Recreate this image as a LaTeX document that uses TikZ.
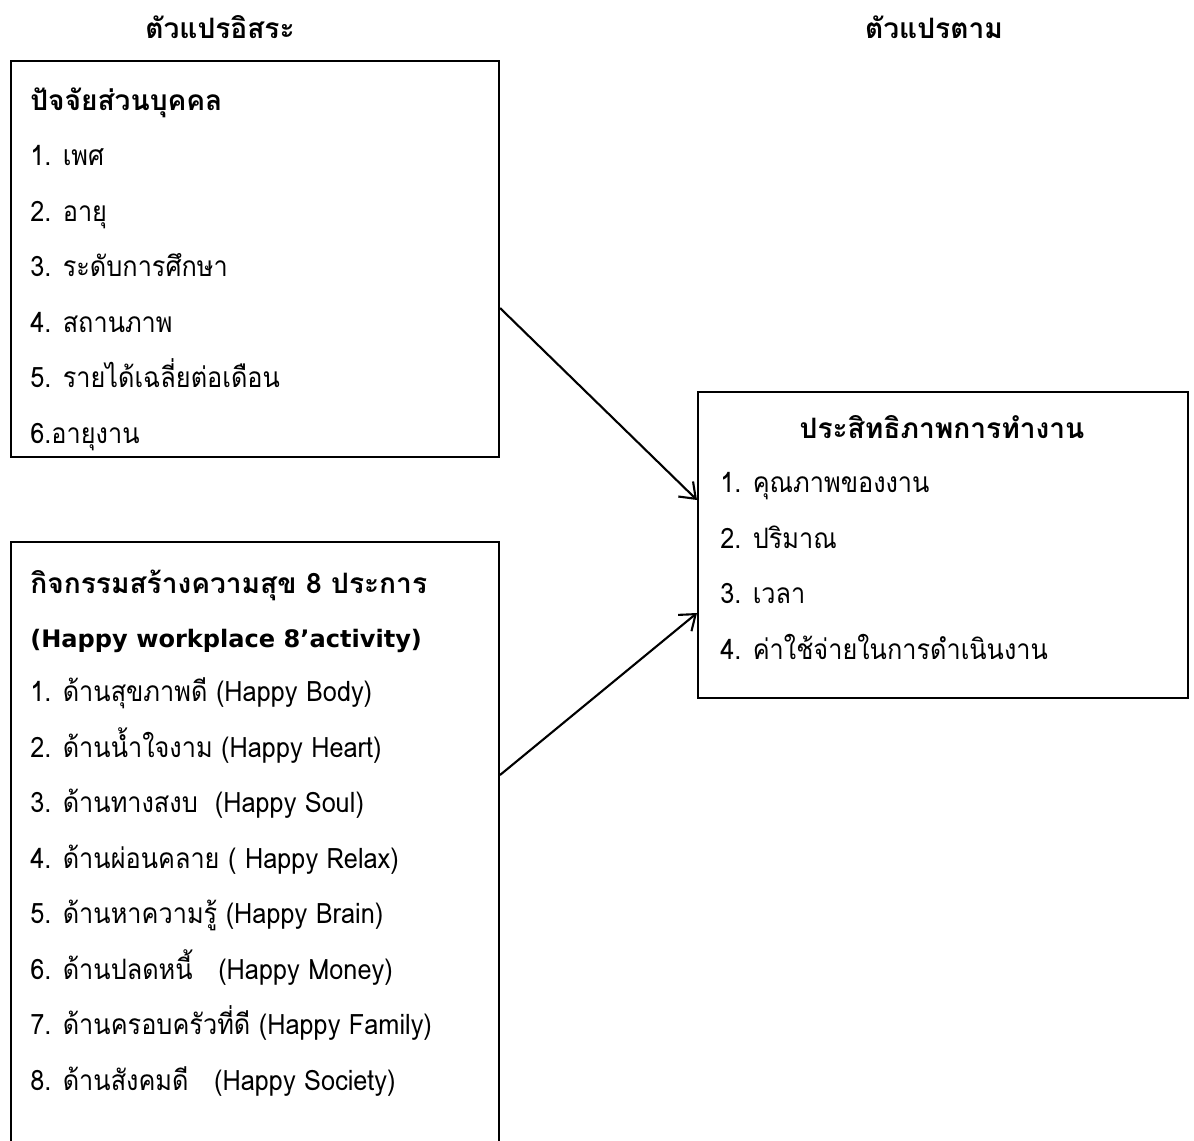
\documentclass[tikz,border=0pt]{standalone}
\usepackage{fontspec}
\setmainfont[Script=Thai, UprightFeatures={FakeStretch=0.9}]{Loma}
\newfontfamily\latinbold{DejaVu Sans}
\usetikzlibrary{positioning,arrows.meta}
\tikzset{
  frame/.style={draw, line width=1.2pt, anchor=north west, inner sep=0pt},
  item/.style={anchor=base west, inner sep=0pt, font=\fontsize{16}{19}\selectfont},
  head/.style={item, font=\fontsize{16}{19}\selectfont\bfseries},
  link/.style={-{Straight Barb[length=8pt,width=12pt]}, line width=1.2pt},
}
\begin{document}
\begin{tikzpicture}[x=0.02cm, y=-0.02cm]
\clip (0,0) rectangle (1194,1140);
% headers
\node[head, anchor=base] (indep) at (220,38) {ตัวแปรอิสระ};
\node[head, anchor=base] (dep) at (934,38) {ตัวแปรตาม};
% boxes
\node[frame, minimum width=9.76cm, minimum height=7.92cm] (personal) at (10,60) {};
\node[frame, minimum width=9.76cm, minimum height=12.4cm] (happy) at (10,541) {};
\node[frame, minimum width=9.8cm, minimum height=6.12cm] (outcome) at (697,391) {};
% personal factors
\node[head] (pftitle) at (30,110) {ปัจจัยส่วนบุคคล};
\foreach \txt [count=\i] in {1. เพศ, 2. อายุ, 3. ระดับการศึกษา, 4. สถานภาพ,
    5. รายได้เฉลี่ยต่อเดือน, 6.อายุงาน}
  \node[item] (pf\i) at (30,110+55.5*\i) {\txt};
% happy workplace
\node[head] (hwtitle) at (30,593) {กิจกรรมสร้างความสุข 8 ประการ};
\node[head, font=\fontsize{13.7}{19}\latinbold\bfseries] (hwsub) at (30,647) {(Happy workplace 8’activity)};
\foreach \txt [count=\i] in {{1. ด้านสุขภาพดี (Happy Body)},
    {2. ด้านน้ำใจงาม (Happy Heart)},
    {3. ด้านทางสงบ\ \ (Happy Soul)},
    {4. ด้านผ่อนคลาย ( Happy Relax)},
    {5. ด้านหาความรู้ (Happy Brain)},
    {6. ด้านปลดหนี้\ \ \ (Happy Money)},
    {7. ด้านครอบครัวที่ดี (Happy Family)},
    {8. ด้านสังคมดี\ \ \ (Happy Society)}}
  \node[item] (hw\i) at (30,646+55.5*\i) {\txt};
% work efficiency
\node[head, anchor=base] (oetitle) at (942,438) {ประสิทธิภาพการทำงาน};
\foreach \txt [count=\i] in {1. คุณภาพของงาน, 2. ปริมาณ, 3. เวลา,
    4. ค่าใช้จ่ายในการดำเนินงาน}
  \node[item] (oe\i) at (720,437+55.5*\i) {\txt};
% connectors
\draw[link] (personal.east |- 0,308) -- (outcome.west |- 0,500);
\draw[link] (happy.east |- 0,775) -- (outcome.west |- 0,613);
\end{tikzpicture}
\end{document}
